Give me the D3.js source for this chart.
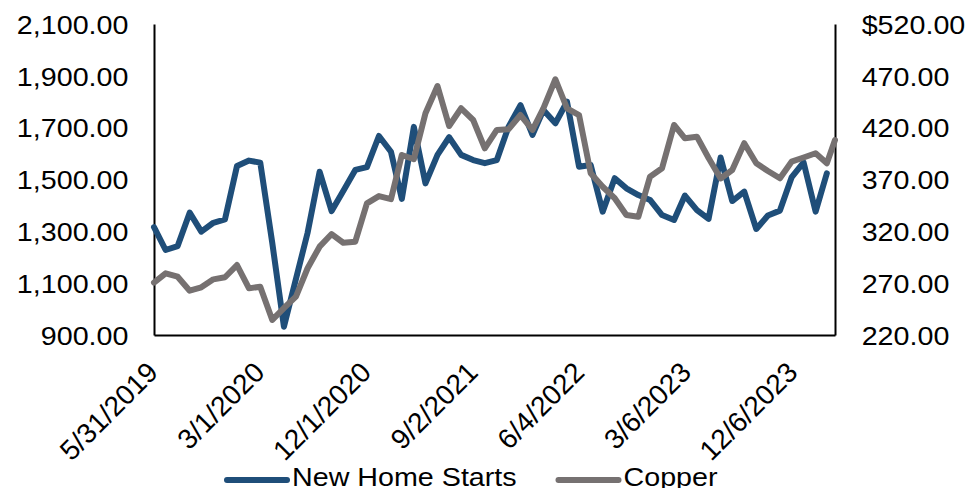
<!DOCTYPE html>
<html>
<head>
<meta charset="utf-8">
<script src="https://cdn.jsdelivr.net/npm/d3@7"></script>
<style>
  html, body { margin: 0; padding: 0; background: #fff; }
  svg { display: block; }
  text { font-family: "Liberation Sans", Arial, sans-serif; fill: #000; }
</style>
</head>
<body>
<svg id="chart" width="968" height="488"></svg>
<script>
// Observation dates (month ends, plus the latest copper print)
const dates = [
  "2019-05-31","2019-06-30","2019-07-31","2019-08-31","2019-09-30","2019-10-31","2019-11-30","2019-12-31",
  "2020-01-31","2020-02-29","2020-03-31","2020-04-30","2020-05-31","2020-06-30","2020-07-31","2020-08-31",
  "2020-09-30","2020-10-31","2020-11-30","2020-12-31",
  "2021-01-31","2021-02-28","2021-03-31","2021-04-30","2021-05-31","2021-06-30","2021-07-31","2021-08-31",
  "2021-09-30","2021-10-31","2021-11-30","2021-12-31",
  "2022-01-31","2022-02-28","2022-03-31","2022-04-30","2022-05-31","2022-06-30","2022-07-31","2022-08-31",
  "2022-09-30","2022-10-31","2022-11-30","2022-12-31",
  "2023-01-31","2023-02-28","2023-03-31","2023-04-30","2023-05-31","2023-06-30","2023-07-31","2023-08-31",
  "2023-09-30","2023-10-31","2023-11-30","2023-12-31",
  "2024-01-31","2024-02-29","2024-03-21"
];

// New home starts (thousands, SAAR) - left axis
const newHomeStarts = [
  1316,1228,1243,1372,1299,1333,1346,1552,1573,1565,1255,932,1116,1294,1530,1378,
  1456,1537,1548,1668,1607,1425,1703,1485,1595,1663,1595,1575,1563,1575,1703,1787,
  1672,1768,1717,1800,1549,1556,1376,1505,1466,1440,1421,1363,1344,1438,1382,1348,
  1585,1417,1453,1309,1361,1380,1508,1566,1376,1524
];

// Copper price - right axis
const copper = [
  270.5,279.5,276.2,262.7,266.0,273.7,275.7,287.5,265.0,266.6,234.5,246.0,257.0,284.4,305.2,317.4,
  309.0,310.0,347.0,354.0,351.0,393.6,389.5,433.9,460.2,421.6,438.7,427.4,400.1,417.8,418.4,432.2,
  417.8,438.7,466.7,438.7,432.2,376.0,363.0,351.9,335.8,334.1,372.7,380.8,422.6,409.7,411.3,390.7,
  371.0,379.2,405.0,385.6,378.2,371.2,387.2,391.2,395.3,385.6,408.1
];

// Axis ticks
const xTickDates = ["2019-05-31","2020-03-01","2020-12-01","2021-09-02","2022-06-04","2023-03-06","2023-12-06"];
const leftTicks = [900, 1100, 1300, 1500, 1700, 1900, 2100];
const rightTicks = [220, 270, 320, 370, 420, 470, 520];

const seriesNames = ["New Home Starts", "Copper"];
const colors = ["#1F4E79", "#767171"];

// Layout
const plot = { left: 154, right: 835, top: 24, bottom: 335 };
const fontSize = 25.5;
const dateFontSize = 28;
const sx = 1.125; // horizontal text stretch for upright labels

const parse = d3.utcParse("%Y-%m-%d");
const fmtDate = d3.utcFormat("%-m/%-d/%Y");
const dateObjs = dates.map(parse);
const tickObjs = xTickDates.map(parse);

const svg = d3.select("#chart");

const x = d3.scaleUtc()
  .domain([dateObjs[0], dateObjs[dateObjs.length - 1]])
  .range([plot.left, plot.right]);
const yL = d3.scaleLinear().domain([900, 2100]).range([plot.bottom, plot.top]);
const yR = d3.scaleLinear().domain([220, 520]).range([plot.bottom, plot.top]);

// Left axis
const gL = svg.append("g")
  .attr("transform", `translate(${plot.left},0)`)
  .call(d3.axisLeft(yL).tickValues(leftTicks).tickSize(0).tickPadding(22.7)
    .tickFormat(d3.format(",.2f")));
gL.select(".domain").attr("stroke", "#000").attr("stroke-width", 2);
gL.selectAll("text")
  .attr("font-size", fontSize).attr("font-family", null).attr("dy", "0.36em")
  .attr("transform", `scale(${sx},1)`);

// Right axis: only the top label carries the currency sign
const rMax = d3.max(rightTicks);
const gR = svg.append("g")
  .attr("transform", `translate(${plot.right},0)`)
  .call(d3.axisRight(yR).tickValues(rightTicks).tickSize(0).tickPadding(23.7)
    .tickFormat(d => (d === rMax ? "$" : "") + d3.format(",.2f")(d)));
gR.select(".domain").attr("stroke", "#000").attr("stroke-width", 2);
gR.selectAll("text")
  .attr("font-size", fontSize).attr("font-family", null).attr("dy", "0.36em")
  .attr("transform", `scale(${sx},1)`);

// Bottom axis with diagonal date labels
const gB = svg.append("g")
  .attr("transform", `translate(0,${plot.bottom})`)
  .call(d3.axisBottom(x).tickValues(tickObjs).tickSize(0).tickFormat(fmtDate));
gB.select(".domain").attr("stroke", "#000").attr("stroke-width", 2);
gB.selectAll("text")
  .attr("font-size", dateFontSize).attr("font-family", null)
  .attr("x", 0).attr("y", 0).attr("dy", 0)
  .attr("text-anchor", "end")
  .attr("transform", "translate(5,39) rotate(-45)");

// Series lines
const lineL = d3.line()
  .defined(d => d.v != null)
  .x(d => x(d.date)).y(d => yL(d.v));
const lineR = d3.line()
  .defined(d => d.v != null)
  .x(d => x(d.date)).y(d => yR(d.v));

const startsData = newHomeStarts.map((v, i) => ({ date: dateObjs[i], v }));
const copperData = copper.map((v, i) => ({ date: dateObjs[i], v }));

svg.append("path")
  .datum(startsData)
  .attr("d", lineL)
  .attr("fill", "none").attr("stroke", colors[0]).attr("stroke-width", 6)
  .attr("stroke-linejoin", "round").attr("stroke-linecap", "round");

svg.append("path")
  .datum(copperData)
  .attr("d", lineR)
  .attr("fill", "none").attr("stroke", colors[1]).attr("stroke-width", 6)
  .attr("stroke-linejoin", "round").attr("stroke-linecap", "round");

// Legend
const legendItems = [
  { name: seriesNames[0], color: colors[0], x0: 227 },
  { name: seriesNames[1], color: colors[1], x0: 558.5 }
];
const lg = svg.append("g").attr("class", "legend");
legendItems.forEach(it => {
  lg.append("line")
    .attr("x1", it.x0).attr("x2", it.x0 + 60)
    .attr("y1", 480).attr("y2", 480)
    .attr("stroke", it.color).attr("stroke-width", 6).attr("stroke-linecap", "round");
  lg.append("text")
    .attr("transform", `translate(${it.x0 + 65},485.5) scale(${sx},1)`)
    .attr("font-size", fontSize)
    .text(it.name);
});
</script>
</body>
</html>
